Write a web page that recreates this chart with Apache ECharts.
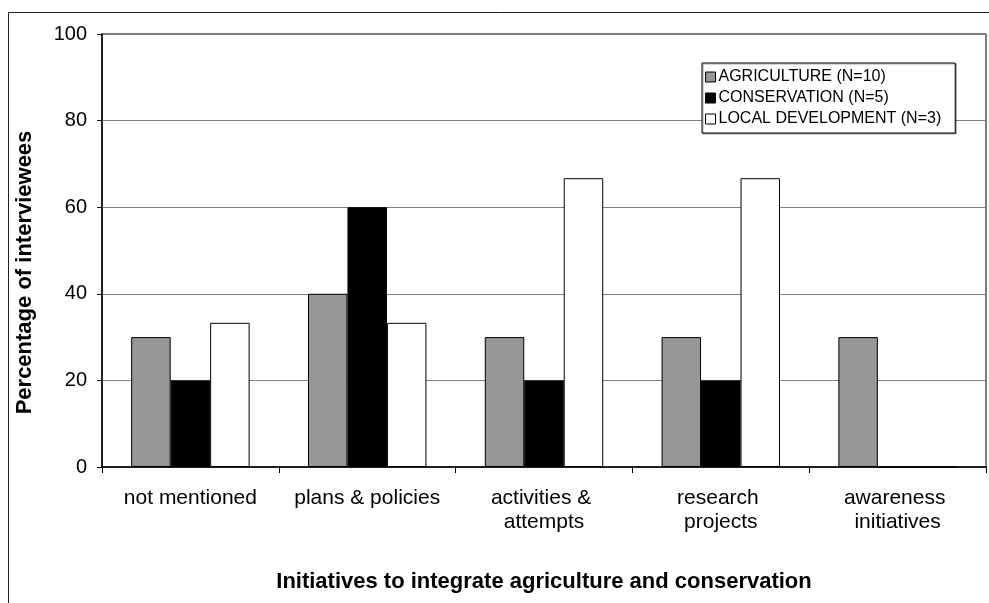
<!DOCTYPE html>
<html>
<head>
<meta charset="utf-8">
<script src="https://cdn.jsdelivr.net/npm/echarts@6/dist/echarts.min.js"></script>
<style>
  html, body { margin: 0; padding: 0; background: #fff; }
  #chart { width: 989px; height: 603px; }
</style>
</head>
<body>
<div id="chart"></div>
<script>
// Initiatives mentioned by interviewees, by sector (percent of interviewees)
const categories = [
  'not mentioned',
  'plans & policies',
  'activities & attempts',
  'research projects',
  'awareness initiatives'
];
const agriculture = [30, 40, 30, 30, 30];
const conservation = [20, 60, 20, 20, 0];
const localDevelopment = [33.3, 33.3, 66.7, 66.7, 0];
const seriesNames = ['AGRICULTURE (N=10)', 'CONSERVATION (N=5)', 'LOCAL DEVELOPMENT (N=3)'];
const yTicks = [0, 20, 40, 60, 80, 100];

const FONT = 'Arial, "Liberation Sans", sans-serif';

const chart = echarts.init(document.getElementById('chart'), null, { renderer: 'canvas' });

function barSeries(name, data, color) {
  return {
    name: name,
    type: 'bar',
    data: data,
    barGap: '0%',
    barCategoryGap: '33%',
    itemStyle: { color: color, borderColor: '#000', borderWidth: 1 },
    emphasis: { disabled: true },
    animation: false
  };
}

chart.setOption({
  backgroundColor: '#fff',
  animation: false,
  textStyle: { fontFamily: FONT },
  grid: {
    left: 102, right: 3, top: 34, bottom: 136,
    show: true, borderColor: '#000', borderWidth: 1, backgroundColor: 'transparent'
  },
  legend: {
    orient: 'vertical',
    left: 702, top: 63,
    padding: [6, 14, 6, 3],
    itemGap: 5,
    itemWidth: 10, itemHeight: 10,
    icon: 'rect',
    backgroundColor: '#fff',
    borderColor: '#000', borderWidth: 1,
    shadowColor: 'rgba(0,0,0,0.35)', shadowOffsetX: 1, shadowOffsetY: 1,
    textStyle: { fontFamily: FONT, fontSize: 16, color: '#000', padding: [0, 0, 0, -2] },
    itemStyle: { borderColor: '#000', borderWidth: 1 },
    data: seriesNames
  },
  xAxis: {
    type: 'category',
    data: categories,
    axisLine: { lineStyle: { color: '#000', width: 1.5 } },
    axisTick: { show: true, length: 6, lineStyle: { color: '#000' } },
    axisLabel: {
      color: '#000', fontSize: 21, fontFamily: FONT, margin: 19,
      width: 150, overflow: 'break', lineHeight: 24, interval: 0
    },
    name: 'Initiatives to integrate agriculture and conservation',
    nameLocation: 'middle',
    nameGap: 104,
    nameTextStyle: { color: '#000', fontSize: 22, fontWeight: 'bold', fontFamily: FONT }
  },
  yAxis: {
    type: 'value',
    min: yTicks[0], max: yTicks[yTicks.length - 1], interval: 20,
    axisLine: { show: true, lineStyle: { color: '#000', width: 1.5 } },
    axisTick: { show: true, length: 5, lineStyle: { color: '#000' } },
    axisLabel: { color: '#000', fontSize: 20, fontFamily: FONT, margin: 15 },
    splitLine: { show: true, lineStyle: { color: '#7f7f7f', width: 1 } },
    name: 'Percentage of interviewees',
    nameLocation: 'middle',
    nameGap: 66,
    nameTextStyle: { color: '#000', fontSize: 22, fontWeight: 'bold', fontFamily: FONT, padding: [0, 0, 0, -44] }
  },
  series: [
    barSeries(seriesNames[0], agriculture, '#969696'),
    barSeries(seriesNames[1], conservation, '#000000'),
    barSeries(seriesNames[2], localDevelopment, '#ffffff')
  ],
  graphic: [
    {
      type: 'rect',
      silent: true,
      shape: { x: 8.5, y: 12.5, width: 1100, height: 700 },
      style: { fill: 'none', stroke: '#222', lineWidth: 1 },
      z: -1
    }
  ]
});
</script>
</body>
</html>
